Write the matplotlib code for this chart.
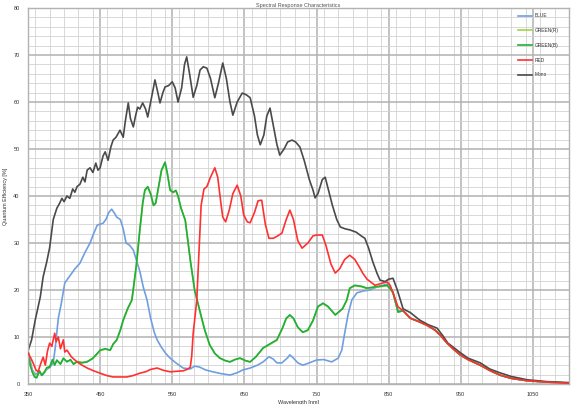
import matplotlib
matplotlib.use("Agg")
import matplotlib.pyplot as plt
import numpy as np
from matplotlib.ticker import MultipleLocator

plt.rcParams['font.family'] = ['Liberation Sans', 'DejaVu Sans']

# ---------------- data ----------------
mono_wl = [350, 355, 360, 367, 371, 376, 380, 385, 390, 394, 397, 400, 404, 408, 412, 415, 418, 422,
           426, 429, 432, 436, 440, 444, 447, 450, 454, 457, 461, 465, 468, 472, 477.5, 482, 485, 489,
           492, 496, 499, 502, 505, 509, 513, 516, 520, 526, 530, 533, 537, 540, 545, 550, 554, 558,
           563, 567, 570, 574, 579, 584, 588.5, 593, 598, 603, 609, 614, 620, 625, 630, 634, 640, 647,
           653, 658, 664, 668, 672, 677, 681, 685.5, 690, 695, 699, 705, 710, 716, 721, 727, 733, 740,
           745, 748, 752, 758, 762, 767, 772, 778, 783, 790, 796, 805, 812, 817, 822, 828, 834, 838,
           845, 850, 856, 862, 870, 880, 893, 905, 917, 925, 932, 939, 949, 960, 977, 990, 1004, 1020,
           1042, 1070, 1100]
mono_qe = [7, 9.4, 13.6, 18.5, 22.8, 26, 29, 35, 37.4, 38.5, 39.5, 38.8, 40, 39.5, 41.5, 40.8, 42, 42.5,
           44, 43, 45.5, 46, 45, 47, 45.5, 46, 48.5, 49.4, 47.6, 50.5, 51.9, 52.5, 54, 52.5, 56, 59.8,
           56.5, 54.7, 57, 58.9, 58.5, 59.8, 58.5, 56.8, 60, 64.7, 62, 59.8, 62, 63.2, 63.5, 64.3, 63, 60,
           63, 68, 69.6, 66, 61, 63.5, 66.8, 67.5, 67.2, 65, 60.9, 64, 68.3, 65, 60, 57.2, 60, 61.9,
           61.5, 60.9, 57, 53, 50.9, 53, 57, 58.7, 55, 51, 48.7, 50, 51.5, 51.9, 51.5, 50.4, 47.5, 43.5,
           41.3, 39.6, 40.5, 43.5, 44, 41, 38, 35, 33.4, 33, 32.8, 32.3, 31.5, 31, 29, 26, 23.5, 22.1,
           21.8, 22.3, 22.5, 20, 16, 15.2, 13.6, 12.6, 11.9, 10.3, 8.7, 7.9, 6.7, 5.5, 4.5, 3.2, 2.4, 1.6,
           0.9, 0.5, 0.3]

# NIR tail shared by the colour channels (they overlap above ~860 nm)
tail_wl = [870, 880, 893, 903, 914, 922, 931, 940, 949, 960, 977, 990, 1004, 1020, 1042, 1070, 1100]
tail_qe = [15.6, 14.0, 13.2, 12.5, 11.5, 10.3, 8.7, 7.4, 6.2, 5.2, 4.0, 2.9, 1.9, 1.2, 0.7, 0.4, 0.2]

blue_wl = [350, 353, 356, 360, 365, 370, 375, 380, 385, 388, 392, 396, 401, 408, 415, 422, 429, 436,
           441, 446, 450, 454, 458, 462, 466, 470, 473, 478, 482, 486, 491, 496, 500, 505, 510, 515,
           520, 525, 529, 535, 541, 547, 555, 565, 575, 581, 588, 596, 606, 618, 630, 640, 648, 658,
           668, 676, 684, 690, 695, 702, 710, 713, 718, 724, 731, 740, 750, 760, 771, 780, 785, 789,
           794, 799, 806, 815, 824, 833, 842, 850, 856, 863]
blue_qe = [7, 5, 3, 2, 2.5, 2, 3, 3.5, 4.5, 8, 14, 17, 21.5, 23, 24.5, 25.7, 28, 30,
           32, 33.8, 34, 34.2, 35, 36.5, 37.2, 36.3, 35.5, 35, 33, 30, 29.5, 28.5, 26.5, 24, 20.5, 17.9,
           14, 11, 9.4, 7.8, 6.5, 5.5, 4.5, 3.4, 3.2, 3.8, 3.6, 3, 2.6, 2.2, 1.9, 2.4, 3, 3.4,
           4, 4.7, 5.8, 5.3, 4.5, 4.5, 5.6, 6.2, 5.5, 4.5, 4, 4.5, 5.1, 5.2, 4.7, 5.5, 7.2, 10.8,
           15, 17.9, 19.4, 19.8, 20, 20.6, 21, 21.3, 19.5, 15.5]

green_wl = [350, 353, 356, 359, 362, 366, 369, 373, 376, 380, 384, 387, 390, 395, 399, 404, 409, 413,
            418, 425, 432, 440, 446, 450, 457, 464, 468, 473, 478, 482, 488, 494, 500, 505, 509, 512,
            516, 520, 524, 527, 531, 535, 540, 543, 547, 551, 555, 558, 562, 568, 575, 581, 588, 595,
            602, 609, 616, 623, 630, 637, 644, 651, 658, 666, 676, 685, 695, 703, 708, 713, 718, 724,
            731, 738, 745, 752, 759, 766, 776, 786, 792, 796, 803, 812, 820, 828, 838, 848, 856, 863]
green_b_qe = [7.2, 4, 2.5, 1.5, 1.3, 2.8, 1.8, 2.5, 3.5, 3.6, 5.2, 4, 5.1, 4.2, 5.5, 4.7, 5.2, 4.2,
              4.7, 4.5, 4.7, 5.5, 6.5, 7.2, 7.5, 7.2, 8.5, 9.4, 11.5, 13.6, 16, 17.9, 25, 32.8, 38.5, 41.3,
              42, 40.5, 38, 38.5, 42, 45.5, 47.2, 45, 41.3, 40.8, 41.2, 40, 37.5, 34.9, 26.4, 20, 15.7, 11.5,
              8.3, 6.5, 5.5, 5, 4.7, 5.2, 5.5, 5, 4.7, 5.8, 7.7, 8.5, 9.4, 12, 14, 14.7, 14, 12.1,
              11, 11.5, 13.5, 16.5, 17.2, 16.5, 14.7, 16, 17.9, 20.4, 21, 20.8, 20.4, 20.6, 20.8, 21, 19.5, 15.3]
green_r_qe = [7.0, 4.2, 2.8, 1.8, 1.5, 2.6, 2.0, 2.7, 3.3, 3.8, 5.0, 4.2, 4.9, 4.4, 5.3, 4.9, 5.0, 4.4,
              4.8, 4.6, 4.8, 5.4, 6.4, 7.1, 7.4, 7.2, 8.4, 9.3, 11.4, 13.5, 15.9, 17.8, 24.8, 32.6, 38.3, 41.1,
              41.8, 40.4, 38, 38.4, 41.8, 45.3, 47.0, 44.9, 41.2, 40.7, 41.1, 39.9, 37.4, 34.8, 26.3, 19.9, 15.6, 11.4,
              8.3, 6.5, 5.5, 5, 4.7, 5.2, 5.5, 5, 4.7, 5.8, 7.6, 8.4, 9.3, 11.9, 13.9, 14.6, 13.9, 12.0,
              11, 11.4, 13.4, 16.4, 17.1, 16.4, 14.7, 16, 17.8, 20.3, 20.9, 20.7, 20.3, 20.5, 20.7, 20.9, 19.4, 15.3]

red_wl = [350, 354, 357, 361, 364, 368, 371, 374, 377, 380, 383, 387, 389, 392, 395, 399, 401, 404,
          410, 418, 425, 432, 441, 450, 459, 468, 478, 487, 496, 505, 513, 520, 529, 538, 547, 556,
          565, 572, 575, 577, 579, 582, 584, 587, 590, 594, 598, 603, 609, 613, 617, 620, 624, 629,
          634, 640, 645, 649, 654, 658, 664, 669, 674, 679, 684, 690, 696, 702, 708, 713, 718, 724,
          730, 738, 745, 750, 758, 763, 770, 776, 782, 789, 796, 803, 809, 814, 820, 831, 842, 848,
          852, 856, 863]
red_qe = [6.6, 5.5, 4.5, 3, 2.6, 4.5, 5.7, 4, 7, 8.7, 8, 10.8, 9, 10, 7.5, 9.4, 6.8, 7.2,
          5.8, 4.7, 4, 3.4, 2.8, 2.3, 1.8, 1.5, 1.5, 1.5, 1.8, 2.3, 2.6, 3.1, 3.4, 2.9, 2.6, 2.7,
          2.8, 3.2, 3.6, 6, 10.8, 15, 17.9, 28, 38, 41.5, 42, 44, 46, 44, 39, 35.5, 34.5, 37,
          40.5, 42.3, 40, 36, 34.5, 34.3, 36.5, 39, 39.1, 34, 31, 31, 31.5, 32.1, 35, 37, 35, 30.5,
          28.9, 30, 31.5, 31.7, 31.7, 29.5, 25.5, 23.6, 24.5, 26.5, 27.4, 26.5, 25, 23.6, 22.3, 21, 21.5, 21.7,
          21, 19.4, 16.4]

labels = ["BLUE", "GREEN(R)", "GREEN(B)", "RED", "Mono"]
colors = ["#6f9fe0", "#9ed44a", "#1fae3c", "#ff3030", "#4a4a4a"]

x_ticks = [350, 450, 550, 650, 750, 850, 950, 1050]
y_ticks = [0, 10, 20, 30, 40, 50, 60, 70, 80]

# ---------------- figure ----------------
fig = plt.figure(figsize=(5.71, 4.04), dpi=100)
ax = fig.add_axes([28 / 571, 1 - 384 / 404, (569 - 28) / 571, (384 - 8) / 404])

ax.set_xlim(350, 1100)
ax.set_ylim(0, 80)
ax.set_xticks(x_ticks)
ax.set_yticks(y_ticks)
ax.xaxis.set_minor_locator(MultipleLocator(20))
ax.yaxis.set_minor_locator(MultipleLocator(2))
ax.grid(which='minor', color='#d2d2d2', linewidth=0.6)
ax.grid(which='major', color='#b2b2b2', linewidth=1.1)
ax.set_axisbelow(True)
for s in ax.spines.values():
    s.set_color('#b2b2b2')
    s.set_linewidth(1.0)
ax.tick_params(which='both', length=0, labelsize=4, colors='#333333', pad=6)

lw = 1.2
ax.plot(blue_wl + tail_wl, blue_qe + tail_qe, color=colors[0], lw=lw, label=labels[0])
ax.plot(green_wl + tail_wl, green_r_qe + tail_qe, color=colors[1], lw=lw, label=labels[1])
ax.plot(green_wl + tail_wl, green_b_qe + tail_qe, color=colors[2], lw=lw, label=labels[2])
ax.plot(mono_wl, mono_qe, color=colors[4], lw=lw, label=labels[4], zorder=2)
ax.plot(red_wl + tail_wl, red_qe + tail_qe, color=colors[3], lw=lw, label=labels[3], zorder=3)

h, l = ax.get_legend_handles_labels()
hd = {lab: hh for hh, lab in zip(h, l)}
leg = ax.legend([hd[x] for x in labels], labels, loc='upper left',
                bbox_to_anchor=((515 - 28) / 541, (384 - 10) / 376),
                frameon=False, fontsize=3.5, handlelength=2.8, labelspacing=2.0,
                borderpad=0.2, handletextpad=0.5)
for t in leg.get_texts():
    t.set_color('#333333')

ax.set_title("Spectral Response Characteristics", fontsize=4, color='#555555', pad=0.5)
ax.set_xlabel("Wavelength [nm]", fontsize=4, color='#333333', labelpad=2)
ax.set_ylabel("Quantum Efficiency [%]", fontsize=4, color='#333333', labelpad=4)

fig.savefig("out.png", dpi=100)
